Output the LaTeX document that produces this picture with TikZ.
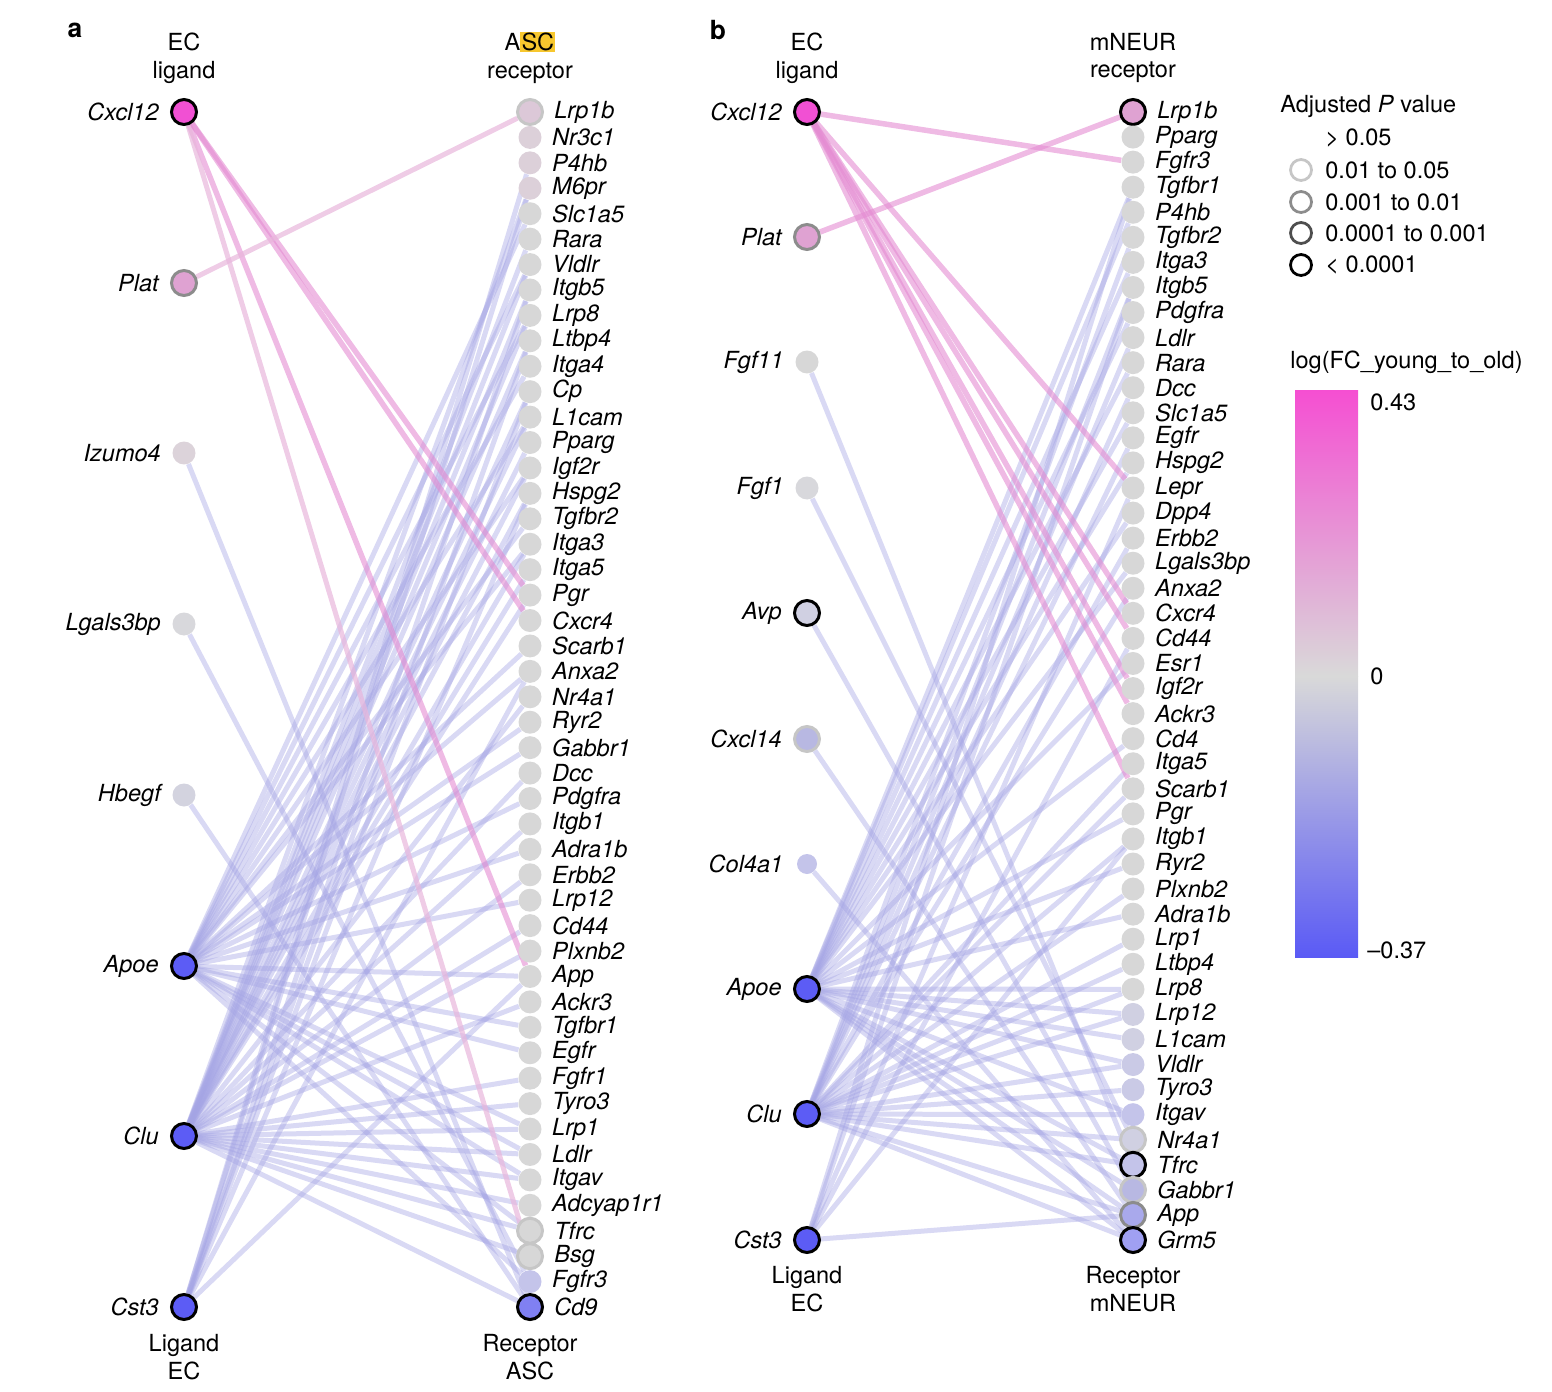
\documentclass[tikz,border=0pt]{standalone}
\usepackage{fontspec}
\setmainfont{TeX Gyre Heros}
\usepackage{xcolor}
\usepackage{tikz}
\usetikzlibrary{positioning}
\pgfdeclarelayer{bg}
\pgfsetlayers{bg,main}

\definecolor{pkhi}{HTML}{F150D3}
\definecolor{pkmd}{HTML}{DFA2D2}
\definecolor{pklt}{HTML}{DCC8D8}
\definecolor{pkgy}{HTML}{DCD0D9}
\definecolor{gyr}{HTML}{D7D7D7}
\definecolor{gya}{HTML}{DCD3DA}
\definecolor{gyb}{HTML}{D8D8DC}
\definecolor{gyc}{HTML}{D3D3DF}
\definecolor{lva}{HTML}{D0D0E2}
\definecolor{lvb}{HTML}{CACAE6}
\definecolor{lvc}{HTML}{C4C4EA}
\definecolor{lvd}{HTML}{B8B8E2}
\definecolor{lve}{HTML}{A9A9EC}
\definecolor{lvf}{HTML}{A0A0F2}
\definecolor{blhi}{HTML}{5C5CF5}
\definecolor{blmd}{HTML}{8080F2}
\definecolor{rimlt}{HTML}{C6C6C6}
\definecolor{rimmd}{HTML}{8C8C8C}
\definecolor{rimdk}{HTML}{4E4E4E}
\definecolor{edgelv}{HTML}{A4A4E4}
\definecolor{edgepk}{HTML}{E48CD2}
\definecolor{edgepl}{HTML}{E8B6DC}
\definecolor{cbpk}{HTML}{F54FD2}
\definecolor{cbgy}{HTML}{D9D9D9}
\definecolor{cbbl}{HTML}{5A5AF5}
\definecolor{hl}{HTML}{F7C72E}

\newcommand{\genefont}{\fontsize{13.4}{16}\selectfont\itshape}
\newcommand{\hdrfont}{\fontsize{13.4}{15.9}\selectfont}

\begin{document}
\begin{tikzpicture}[x=0.02cm, y=-0.02cm,
    rec/.style={circle, inner sep=0pt, minimum size=0.46cm},
    recl/.style={rec, draw=rimlt, line width=0.06cm, minimum size=0.5cm},
    recm/.style={rec, draw=rimmd, line width=0.06cm, minimum size=0.5cm},
    recb/.style={rec, draw=black, line width=0.06cm, minimum size=0.5cm},
    gene/.style={font=\genefont, inner sep=0pt},
    hdr/.style={align=center, font=\hdrfont, inner sep=0pt},
    lav/.style={line width=0.1cm, draw=edgelv, draw opacity=0.42},
    pnk/.style={line width=0.11cm, draw=edgepk, draw opacity=0.6},
    pnkl/.style={line width=0.1cm, draw=edgepl, draw opacity=0.7},
    node distance=0.2cm]
    \useasboundingbox (0,0) rectangle (1552,1392);

    % panel a
    \node[font=\fontsize{15}{18}\selectfont\bfseries] (tagA) at (75,30) {a};
    \node[hdr] (aHdrL) at (184,58) {EC\\ligand};
    \node[hdr] (aHdrR) at (530,58) {A{\fboxsep=0.6pt\colorbox{hl}{SC}}\\receptor};
    \node[hdr] (aFtL) at (184,1357) {Ligand\\EC};
    \node[hdr] (aFtR) at (530,1357) {Receptor\\ASC};

    \foreach \g/\y/\c/\s in {Cxcl12/112/pkhi/recb, Plat/283/pkmd/recm, Izumo4/453/gya/rec,
        Lgals3bp/624/gyb/rec, Hbegf/795/gyc/rec, Apoe/966/blhi/recb, Clu/1136/blhi/recb, Cst3/1307/blhi/recb} {
        \node[\s, fill=\c] (a\g) at (184,\y) {};
        \node[gene, left=0.22cm of a\g] (a\g txt) {\g};
    }

    \foreach \g/\c/\s [count=\i from 0] in {Lrp1b/pklt/recl, Nr3c1/pkgy/rec, P4hb/pkgy/rec, M6pr/pkgy/rec,
        Slc1a5/gyr/rec, Rara/gyr/rec, Vldlr/gyr/rec, Itgb5/gyr/rec, Lrp8/gyr/rec, Ltbp4/gyr/rec,
        Itga4/gyr/rec, Cp/gyr/rec, L1cam/gyr/rec, Pparg/gyr/rec, Igf2r/gyr/rec, Hspg2/gyr/rec,
        Tgfbr2/gyr/rec, Itga3/gyr/rec, Itga5/gyr/rec, Pgr/gyr/rec, Cxcr4/gyr/rec, Scarb1/gyr/rec,
        Anxa2/gyr/rec, Nr4a1/gyr/rec, Ryr2/gyr/rec, Gabbr1/gyr/rec, Dcc/gyr/rec, Pdgfra/gyr/rec,
        Itgb1/gyr/rec, Adra1b/gyr/rec, Erbb2/gyr/rec, Lrp12/gyr/rec, Cd44/gyr/rec, Plxnb2/gyr/rec,
        App/gyr/rec, Ackr3/gyr/rec, Tgfbr1/gyr/rec, Egfr/gyr/rec, Fgfr1/gyr/rec, Tyro3/gyr/rec,
        Lrp1/gyr/rec, Ldlr/gyr/rec, Itgav/gyr/rec, Adcyap1r1/gyr/rec, Tfrc/gyr/recl, Bsg/gyr/recl,
        Fgfr3/lvc/rec, Cd9/blmd/recb} {
        \node[\s, fill=\c] (a\g) at (530,{112+25.426*\i}) {};
        \node[gene, right=0.2cm of a\g] (a\g txt) {\g};
    }

    \begin{pgfonlayer}{bg}
        \foreach \r in {P4hb, M6pr, Itgb5, Ltbp4, Cp, Hspg2, Anxa2, App}
            \draw[lav] (aCst3) -- (a\r);
        \foreach \r in {Slc1a5, Vldlr, Lrp8, Itga4, L1cam, Igf2r, Tgfbr2, Itga3, Scarb1, Anxa2, Ryr2,
            Gabbr1, Pdgfra, Adra1b, Lrp12, App, Tgfbr1, Egfr, Lrp1, Ldlr, Itgav, Tfrc, Fgfr3}
            \draw[lav] (aApoe) -- (a\r);
        \foreach \r in {M6pr, Rara, Vldlr, Itgb5, Lrp8, Ltbp4, Cp, L1cam, Pparg, Igf2r, Hspg2, Itga3,
            Itga5, Pgr, Nr4a1, Dcc, Itgb1, Erbb2, Cd44, Plxnb2, Ackr3, Fgfr1, Tyro3, Lrp1, Ldlr, Itgav,
            Adcyap1r1, Tfrc, Bsg, Cd9}
            \draw[lav] (aClu) -- (a\r);
        \draw[lav] (aIzumo4) -- (aCd9);
        \draw[lav] (aLgals3bp) -- (aFgfr3);
        \draw[lav] (aHbegf) -- (aCd9);
        \draw[pnk] (aCxcl12) -- (aPgr);
        \draw[pnk] (aCxcl12) -- (aCxcr4);
        \draw[pnk] (aCxcl12) -- (aApp);
        \draw[pnkl] (aCxcl12) -- (aBsg);
        \draw[pnkl] (aPlat) -- (aLrp1b);
    \end{pgfonlayer}

    % panel b
    \node[font=\fontsize{15}{18}\selectfont\bfseries] (tagB) at (718,30) {b};
    \node[hdr] (bHdrL) at (807,58) {EC\\ligand};
    \node[hdr] (bHdrR) at (1133,58) {mNEUR\\receptor};
    \node[hdr] (bFtL) at (807,1289) {Ligand\\EC};
    \node[hdr] (bFtR) at (1133,1289) {Receptor\\mNEUR};

    \foreach \g/\y/\c/\s in {Cxcl12/112/pkhi/recb, Plat/237/pkmd/recm, Fgf11/362/gyr/rec, Fgf1/488/gyb/rec,
        Avp/613/lva/recb, Cxcl14/739/lvd/recl, Apoe/989/blhi/recb, Clu/1114/blhi/recb, Cst3/1240/blhi/recb} {
        \node[\s, fill=\c] (b\g) at (807,\y) {};
        \node[gene, left=0.22cm of b\g] (b\g txt) {\g};
    }
    \node[rec, fill=lvc, minimum size=0.4cm] (bCol4a1) at (807,864) {};
    \node[gene, left=0.26cm of bCol4a1] (bCol4a1txt) {Col4a1};

    \foreach \g/\c/\s [count=\i from 0] in {Lrp1b/pkmd/recb, Pparg/gyr/rec, Fgfr3/gyr/rec, Tgfbr1/gyr/rec,
        P4hb/gyr/rec, Tgfbr2/gyr/rec, Itga3/gyr/rec, Itgb5/gyr/rec, Pdgfra/gyr/rec, Ldlr/gyr/rec,
        Rara/gyr/rec, Dcc/gyr/rec, Slc1a5/gyr/rec, Egfr/gyr/rec, Hspg2/gyr/rec, Lepr/gyr/rec,
        Dpp4/gyr/rec, Erbb2/gyr/rec, Lgals3bp/gyr/rec, Anxa2/gyr/rec, Cxcr4/gyr/rec, Cd44/gyr/rec,
        Esr1/gyr/rec, Igf2r/gyr/rec, Ackr3/gyr/rec, Cd4/gyr/rec, Itga5/gyr/rec, Scarb1/gyr/rec,
        Pgr/gyr/rec, Itgb1/gyr/rec, Ryr2/gyr/rec, Plxnb2/gyr/rec, Adra1b/gyr/rec, Lrp1/gyr/rec,
        Ltbp4/gyr/rec, Lrp8/gyr/rec, Lrp12/lva/rec, L1cam/lva/rec, Vldlr/lvb/rec, Tyro3/lvb/rec,
        Itgav/lvc/rec, Nr4a1/lva/recl, Tfrc/lvc/recb, Gabbr1/lvd/recl, App/lve/recm, Grm5/lvf/recb} {
        \node[\s, fill=\c] (b\g) at (1133,{112+25.067*\i}) {};
        \node[gene, right=0.2cm of b\g] (b\g txt) {\g};
    }

    \begin{pgfonlayer}{bg}
        \foreach \r in {Tgfbr1, P4hb, Itga3, Pdgfra, Rara, Slc1a5, Hspg2, Dpp4, Lgals3bp, Esr1, Cd4, Pgr,
            Ryr2, Adra1b, Lrp8, Lrp12, L1cam, Vldlr, Itgav, Tfrc, Gabbr1, App, Grm5}
            \draw[lav] (bApoe) -- (b\r);
        \foreach \r in {Tgfbr2, Itgb5, Ldlr, Dcc, Egfr, Erbb2, Anxa2, Itga5, Scarb1, Itgb1, Plxnb2, Lrp1,
            Ltbp4, Lrp8, Lrp12, Vldlr, Tyro3, Itgav, Nr4a1, Tfrc, App, Grm5}
            \draw[lav] (bClu) -- (b\r);
        \foreach \r in {Tgfbr1, Itgb5, Lepr, Cd44, Itgb1, App}
            \draw[lav] (bCst3) -- (b\r);
        \draw[lav] (bFgf11) -- (bTfrc);
        \draw[lav] (bFgf1) -- (bNr4a1);
        \draw[lav] (bAvp) -- (bGabbr1);
        \draw[lav] (bCxcl14) -- (bApp);
        \draw[lav] (bCol4a1) -- (bGrm5);
        \foreach \r in {Fgfr3, Lepr, Cxcr4, Cd44, Igf2r, Ackr3, Scarb1}
            \draw[pnk] (bCxcl12) -- (b\r);
        \draw[pnk] (bPlat) -- (bLrp1b);
    \end{pgfonlayer}

    % legend
    \node[font=\hdrfont, anchor=west, inner sep=0pt] (pvTitle) at (1280,106) {Adjusted \textit{P} value};
    \node[font=\hdrfont, anchor=west, inner sep=0pt] (pv0) at (1325,138) {> 0.05};
    \foreach \c/\y/\t [count=\k] in {rimlt/170/0.01 to 0.05, rimmd/202/0.001 to 0.01,
        rimdk/233/0.0001 to 0.001, black/265/< 0.0001} {
        \node[circle, draw=\c, fill=white, line width=0.055cm, minimum size=0.42cm, inner sep=0pt]
            (pvc\k) at (1301,\y) {};
        \node[font=\hdrfont, anchor=west, inner sep=0pt] (pvt\k) at (1325,\y) {\t};
    }

    \node[font=\hdrfont, anchor=west, inner sep=0pt] (fcTitle) at (1290,362) {log(FC\_young\_to\_old)};
    \shade[top color=cbpk, bottom color=cbgy] (1295,390) rectangle (1358,676);
    \shade[top color=cbgy, bottom color=cbbl] (1295,676) rectangle (1358,957);
    \node[font=\hdrfont, anchor=west, inner sep=0pt] (fcHi) at (1370,402) {0.43};
    \node[font=\hdrfont, anchor=west, inner sep=0pt] (fcMid) at (1370,676) {0};
    \node[font=\hdrfont, anchor=west, inner sep=0pt] (fcLo) at (1367,950) {–0.37};
\end{tikzpicture}
\end{document}
